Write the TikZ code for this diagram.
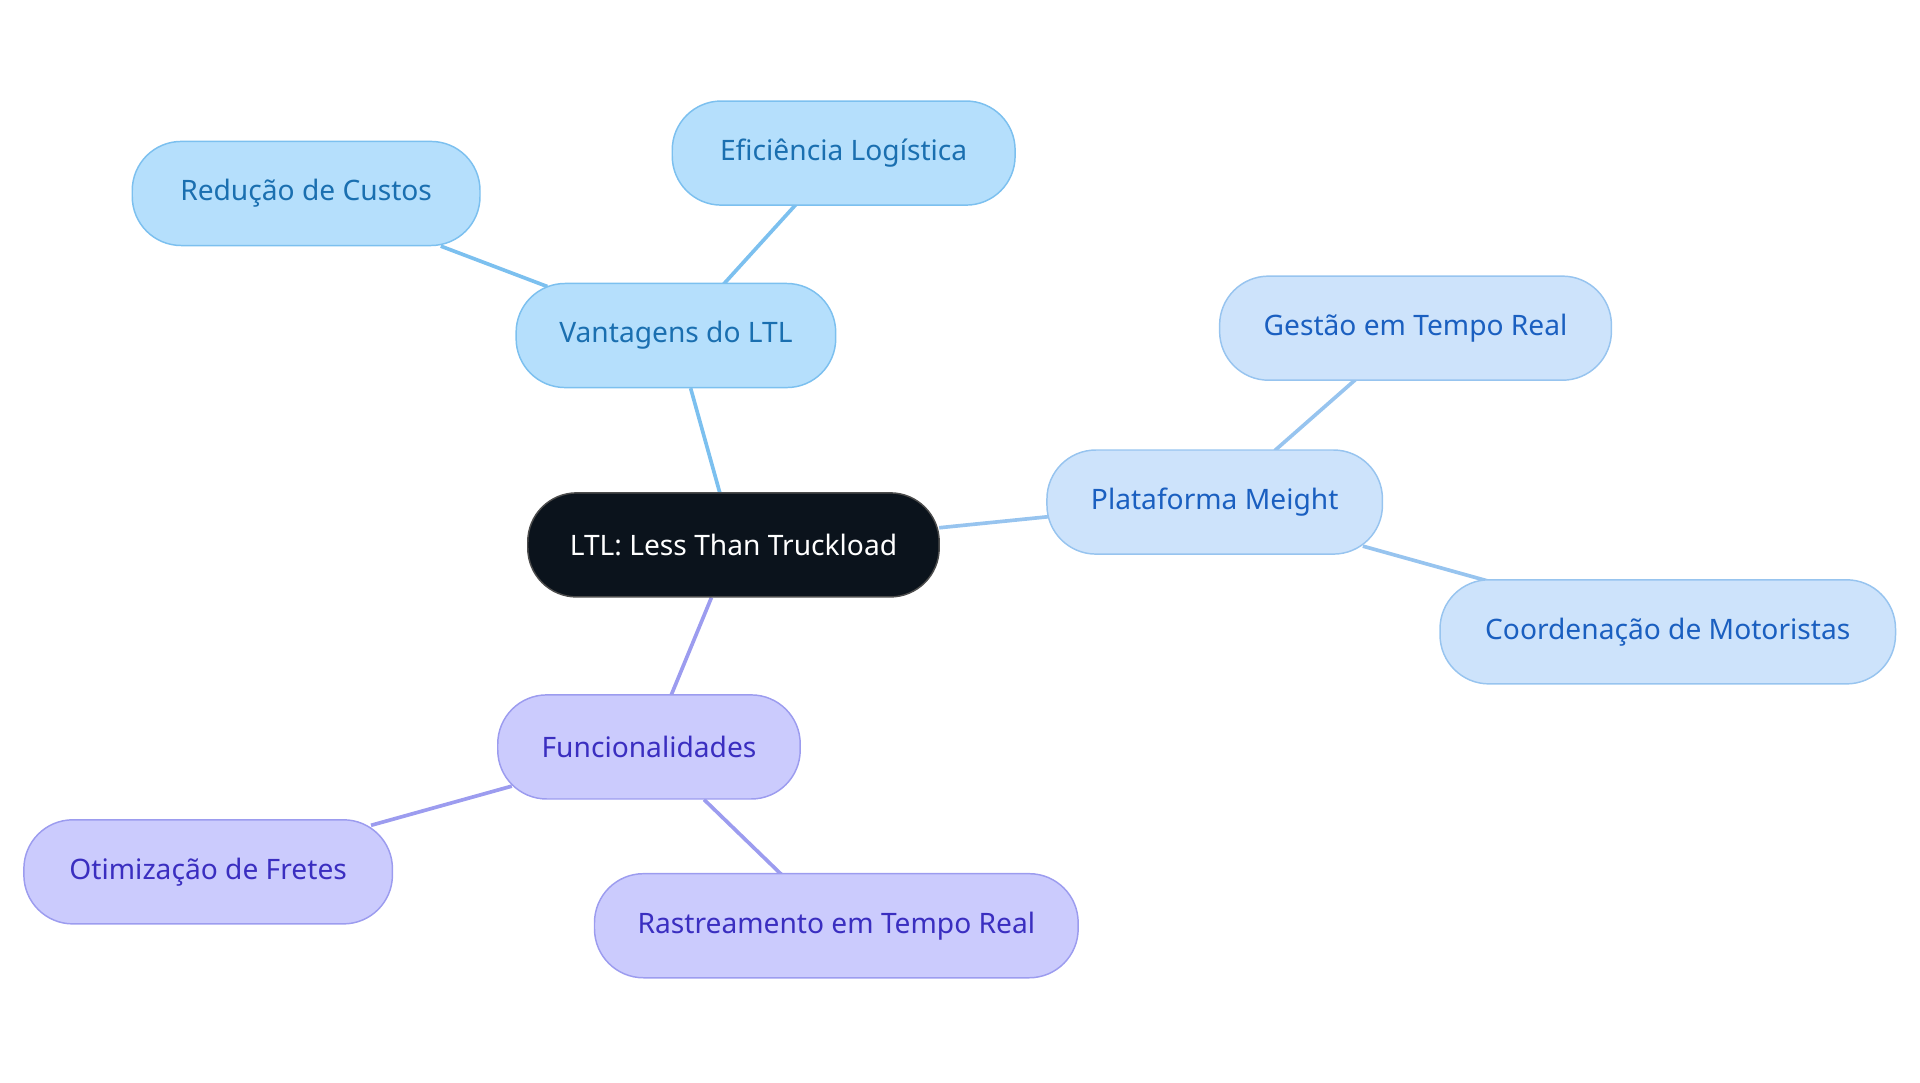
\documentclass[tikz,border=0pt]{standalone}
\usepackage{fontspec}
\setmainfont{Noto Sans}
\definecolor{rootfill}{HTML}{0B131C}
\definecolor{bfill}{HTML}{B5DFFC}\definecolor{bdraw}{HTML}{7CC0EF}\definecolor{btext}{HTML}{1A6FB0}
\definecolor{lfill}{HTML}{CDE3FB}\definecolor{ldraw}{HTML}{97C4EF}\definecolor{ltext}{HTML}{1A5FC0}
\definecolor{pfill}{HTML}{CBCBFD}\definecolor{pdraw}{HTML}{9C9CEF}\definecolor{ptext}{HTML}{3A2EC0}
\begin{document}
\begin{tikzpicture}[x=0.5pt,y=-0.5pt,
  box/.style={rounded corners=20pt,minimum height=42.5pt,inner sep=0pt,font=\fontsize{11.5}{13}\selectfont,line width=0.6pt},
  root/.style={box,fill=rootfill,draw=gray!60!black,text=white},
  bn/.style={box,fill=bfill,draw=bdraw,text=btext},
  ln/.style={box,fill=lfill,draw=ldraw,text=ltext},
  pn/.style={box,fill=pfill,draw=pdraw,text=ptext},
  be/.style={draw=bdraw,line width=1.5pt},
  le/.style={draw=ldraw,line width=1.5pt},
  pe/.style={draw=pdraw,line width=1.5pt}]
\useasboundingbox (0,0) rectangle (1568,884);
\coordinate (c1) at (588,403); \coordinate (c2) at (564,317);
\draw[be] (588,403) -- (564,317);
\draw[be] (591,232) -- (650,167);
\draw[be] (447,234) -- (360,201);
\draw[le] (767,431) -- (856,422);
\draw[le] (1041,368) -- (1107,310);
\draw[le] (1113,446) -- (1217,475);
\draw[pe] (581,488) -- (548,568);
\draw[pe] (418,642) -- (303,674);
\draw[pe] (575,653) -- (638,714);
\node[root,minimum width=168pt] (root) at (599,445) {LTL: Less Than Truckload};
\node[bn,minimum width=130.5pt] (v) at (552,274) {Vantagens do LTL};
\node[bn,minimum width=140pt] (e) at (689,125) {Eficiência Logística};
\node[bn,minimum width=142pt] (r) at (250,158) {Redução de Custos};
\node[ln,minimum width=137pt] (p) at (992,410) {Plataforma Meight};
\node[ln,minimum width=160pt] (g) at (1156,268) {Gestão em Tempo Real};
\node[ln,minimum width=186pt] (c) at (1362,516) {Coordenação de Motoristas};
\node[pn,minimum width=123.5pt] (f) at (530,610) {Funcionalidades};
\node[pn,minimum width=150.5pt] (o) at (170,712) {Otimização de Fretes};
\node[pn,minimum width=197.5pt] (ra) at (683,756) {Rastreamento em Tempo Real};
\end{tikzpicture}
\end{document}
